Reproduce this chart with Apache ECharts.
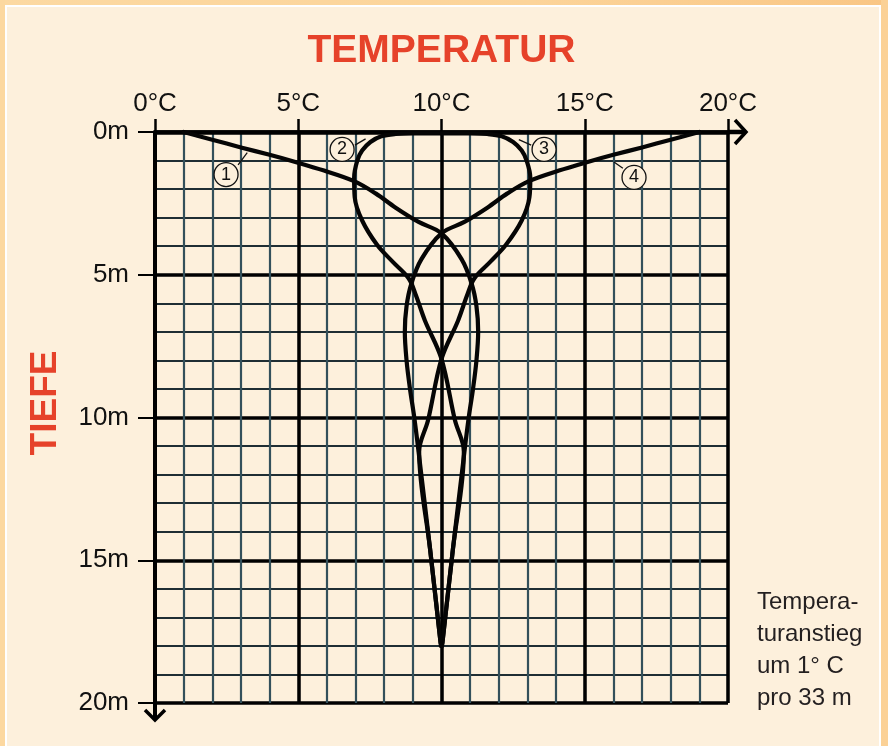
<!DOCTYPE html>
<html>
<head>
<meta charset="utf-8">
<script src="https://cdn.jsdelivr.net/npm/echarts@6/dist/echarts.min.js"></script>
<style>
html,body{margin:0;padding:0;background:#fdf0dc;}
#c{width:888px;height:746px;}
</style>
</head>
<body>
<div id="c"></div>
<script>
// ---- data ----
const titleText = 'TEMPERATUR';
const axisTitleY = 'TIEFE';
const tempTickLabels = ['0°C', '5°C', '10°C', '15°C', '20°C'];
const depthTickLabels = ['0m', '5m', '10m', '15m', '20m'];
// [temperature °C, depth m]
const curve1 = [[1.0,0],[2.0,0.27],[3.0,0.54],[4.0,0.8],[4.9,1.05],[5.9,1.35],[6.95,1.72],[7.7,2.15],[8.4,2.65],[9.2,3.15],[10,3.55],[10.7,4.45],[11.05,5.3],[11.22,6.1],[11.28,7.0],[11.22,8.0],[11.1,9.0],[10.95,10.0],[10.8,11.2],[10.4,14.6],[10.02,18.0]];
const curve2 = [[10.0,0.05],[9.0,0.05],[8.4,0.07],[7.9,0.15],[7.52,0.35],[7.23,0.65],[7.06,1.0],[6.95,1.6],[6.97,2.28],[7.23,3.1],[7.75,3.95],[8.3,4.55],[8.85,5.12],[9.1,5.7],[9.42,6.6],[10.0,7.95],[10.47,10.1],[10.78,11.2],[10.4,14.6],[10.03,17.9]];
const curve3 = [[10.0,0.05],[11.0,0.05],[11.6,0.07],[12.1,0.15],[12.5,0.35],[12.8,0.65],[12.97,1.0],[13.1,1.6],[13.07,2.28],[12.8,3.1],[12.25,3.95],[11.7,4.55],[11.15,5.12],[10.9,5.7],[10.58,6.6],[10.0,7.95],[9.53,10.1],[9.22,11.2],[9.6,14.6],[9.97,17.9]];
const curve4 = [[19.0,0],[18.0,0.27],[17.0,0.54],[16.0,0.8],[15.1,1.05],[14.1,1.35],[13.05,1.72],[12.3,2.15],[11.6,2.65],[10.8,3.15],[10,3.55],[9.3,4.45],[8.95,5.3],[8.78,6.1],[8.72,7.0],[8.78,8.0],[8.9,9.0],[9.05,10.0],[9.2,11.2],[9.6,14.6],[9.98,18.0]];
const curves = [curve1, curve2, curve3, curve4];
const curveNumbers = ['1', '2', '3', '4'];
const labelAnchors = [[2.48,1.49],[6.53,0.61],[13.58,0.61],[16.72,1.59]];
const leaderLines = [[[2.9,1.15],[3.22,0.72]],[[6.98,0.46],[7.35,0.24]],[[13.13,0.46],[12.7,0.27]],[[16.33,1.27],[16.02,1.05]]];
const noteLines = ['Tempera-', 'turanstieg', 'um 1° C', 'pro 33 m'];

// ---- chart ----
const chart = echarts.init(document.getElementById('c'), null, {renderer: 'canvas', width: 888, height: 746});
const FONT = "'Liberation Sans', Arial, Helvetica, sans-serif";
const gridRect = {left: 155, top: 132, width: 573, height: 571};

const series = curves.map((c, i) => ({
  type: 'line', name: 'Kurve ' + curveNumbers[i], xAxisIndex: 1, yAxisIndex: 1,
  data: c, showSymbol: false, smooth: 0.35, clip: false,
  lineStyle: {color: '#050505', width: 4.2, cap: 'round', join: 'round'}, z: 5, silent: true
}));
series.push({
  type: 'lines', coordinateSystem: 'cartesian2d', xAxisIndex: 1, yAxisIndex: 1, z: 6, silent: true,
  lineStyle: {color: '#111', width: 1.3, opacity: 1},
  data: leaderLines.map(l => ({coords: l}))
});
series.push({
  type: 'scatter', xAxisIndex: 1, yAxisIndex: 1, z: 7, silent: true,
  symbol: 'circle', symbolSize: 24,
  itemStyle: {color: '#fdf0dc', borderColor: '#111', borderWidth: 1.3, opacity: 1},
  label: {show: true, position: 'inside', color: '#111', fontSize: 18, fontFamily: FONT,
    formatter: p => curveNumbers[p.dataIndex]},
  data: labelAnchors
});

chart.setOption({
  backgroundColor: '#fdf0dc',
  animation: false,
  grid: Object.assign({containLabel: false}, gridRect),
  xAxis: [
    {type: 'value', position: 'bottom', min: 0, max: 20, interval: 1,
      axisLine: {show: false}, axisTick: {show: false}, axisLabel: {show: false},
      splitLine: {show: true, lineStyle: {color: '#33505b', width: 2.2}}},
    {type: 'value', position: 'top', min: 0, max: 20, interval: 5,
      axisLine: {show: true, lineStyle: {color: '#000', width: 4.5}},
      axisTick: {show: true, length: 13, lineStyle: {color: '#000', width: 2.5}},
      axisLabel: {show: true, margin: 15, color: '#111', fontSize: 26, fontFamily: FONT,
        formatter: v => tempTickLabels[Math.round(v / 5)]},
      splitLine: {show: true, lineStyle: {color: '#000', width: 3.5}}}
  ],
  yAxis: [
    {type: 'value', inverse: true, position: 'right', min: 0, max: 20, interval: 1,
      axisLine: {show: false}, axisTick: {show: false}, axisLabel: {show: false},
      splitLine: {show: true, lineStyle: {color: '#1f2e34', width: 2.2}}},
    {type: 'value', inverse: true, position: 'left', min: 0, max: 20, interval: 5,
      axisLine: {show: true, lineStyle: {color: '#000', width: 4}},
      axisTick: {show: true, length: 17, lineStyle: {color: '#000', width: 2}},
      axisLabel: {show: true, margin: 26, color: '#111', fontSize: 26, fontFamily: FONT,
        formatter: v => depthTickLabels[Math.round(v / 5)]},
      splitLine: {show: true, lineStyle: {color: '#000', width: 3.5}}}
  ],
  series: series
});

// decorations computed from the axes
const pEnd = chart.convertToPixel({xAxisIndex: 1, yAxisIndex: 1}, [20, 0]);
const pBot = chart.convertToPixel({xAxisIndex: 1, yAxisIndex: 1}, [0, 20]);
const pMid = chart.convertToPixel({xAxisIndex: 1, yAxisIndex: 1}, [10, 0]);
const ax = pEnd[0] + 18, ay = pEnd[1];
const bx = pBot[0], by = pBot[1] + 17;

chart.setOption({
  graphic: [
    // outer frame
    {type: 'rect', shape: {x: 0, y: 0, width: 888, height: 5}, style: {fill: new echarts.graphic.LinearGradient(0, 0, 1, 0, [{offset: 0, color: '#fcd9a2'}, {offset: 0.6, color: '#fcd49a'}, {offset: 1, color: '#f9c685'}])}, silent: true},
    {type: 'rect', shape: {x: 0, y: 0, width: 5, height: 746}, style: {fill: '#fcd8a0'}, silent: true},
    {type: 'rect', shape: {x: 881, y: 0, width: 7, height: 746}, style: {fill: '#fbd196'}, silent: true},
    {type: 'rect', shape: {x: 5, y: 5, width: 876, height: 2}, style: {fill: '#ffffff'}, silent: true},
    {type: 'rect', shape: {x: 5, y: 5, width: 2, height: 741}, style: {fill: '#ffffff'}, silent: true},
    {type: 'rect', shape: {x: 879, y: 5, width: 2, height: 741}, style: {fill: '#ffffff'}, silent: true},
    // axis extensions with arrows
    {type: 'line', shape: {x1: pEnd[0], y1: ay, x2: ax, y2: ay}, style: {stroke: '#000', lineWidth: 4.5}, z: 10, silent: true},
    {type: 'polyline', shape: {points: [[ax - 11, ay - 12], [ax, ay], [ax - 11, ay + 12]]}, style: {stroke: '#000', lineWidth: 3.5, fill: null}, z: 10, silent: true},
    {type: 'line', shape: {x1: bx, y1: pBot[1], x2: bx, y2: by}, style: {stroke: '#000', lineWidth: 4}, z: 10, silent: true},
    {type: 'polyline', shape: {points: [[bx - 10, by - 10], [bx, by], [bx + 10, by - 10]]}, style: {stroke: '#000', lineWidth: 3.5, fill: null}, z: 10, silent: true},
    // titles
    {type: 'text', x: pMid[0], y: 51, style: {text: titleText, fill: '#e6422a', font: "bold 39px " + FONT, textAlign: 'center', textVerticalAlign: 'middle'}, silent: true},
    {type: 'text', x: 46, y: 403, rotation: Math.PI / 2, style: {text: axisTitleY, fill: '#e6422a', font: "bold 37px " + FONT, textAlign: 'center', textVerticalAlign: 'middle'}, silent: true},
    // note
    {type: 'text', x: 757, y: 586, style: {text: noteLines.join('\n'), fill: '#231f20', font: "24px " + FONT, lineHeight: 32, textAlign: 'left', textVerticalAlign: 'top'}, silent: true}
  ]
});
</script>
</body>
</html>
